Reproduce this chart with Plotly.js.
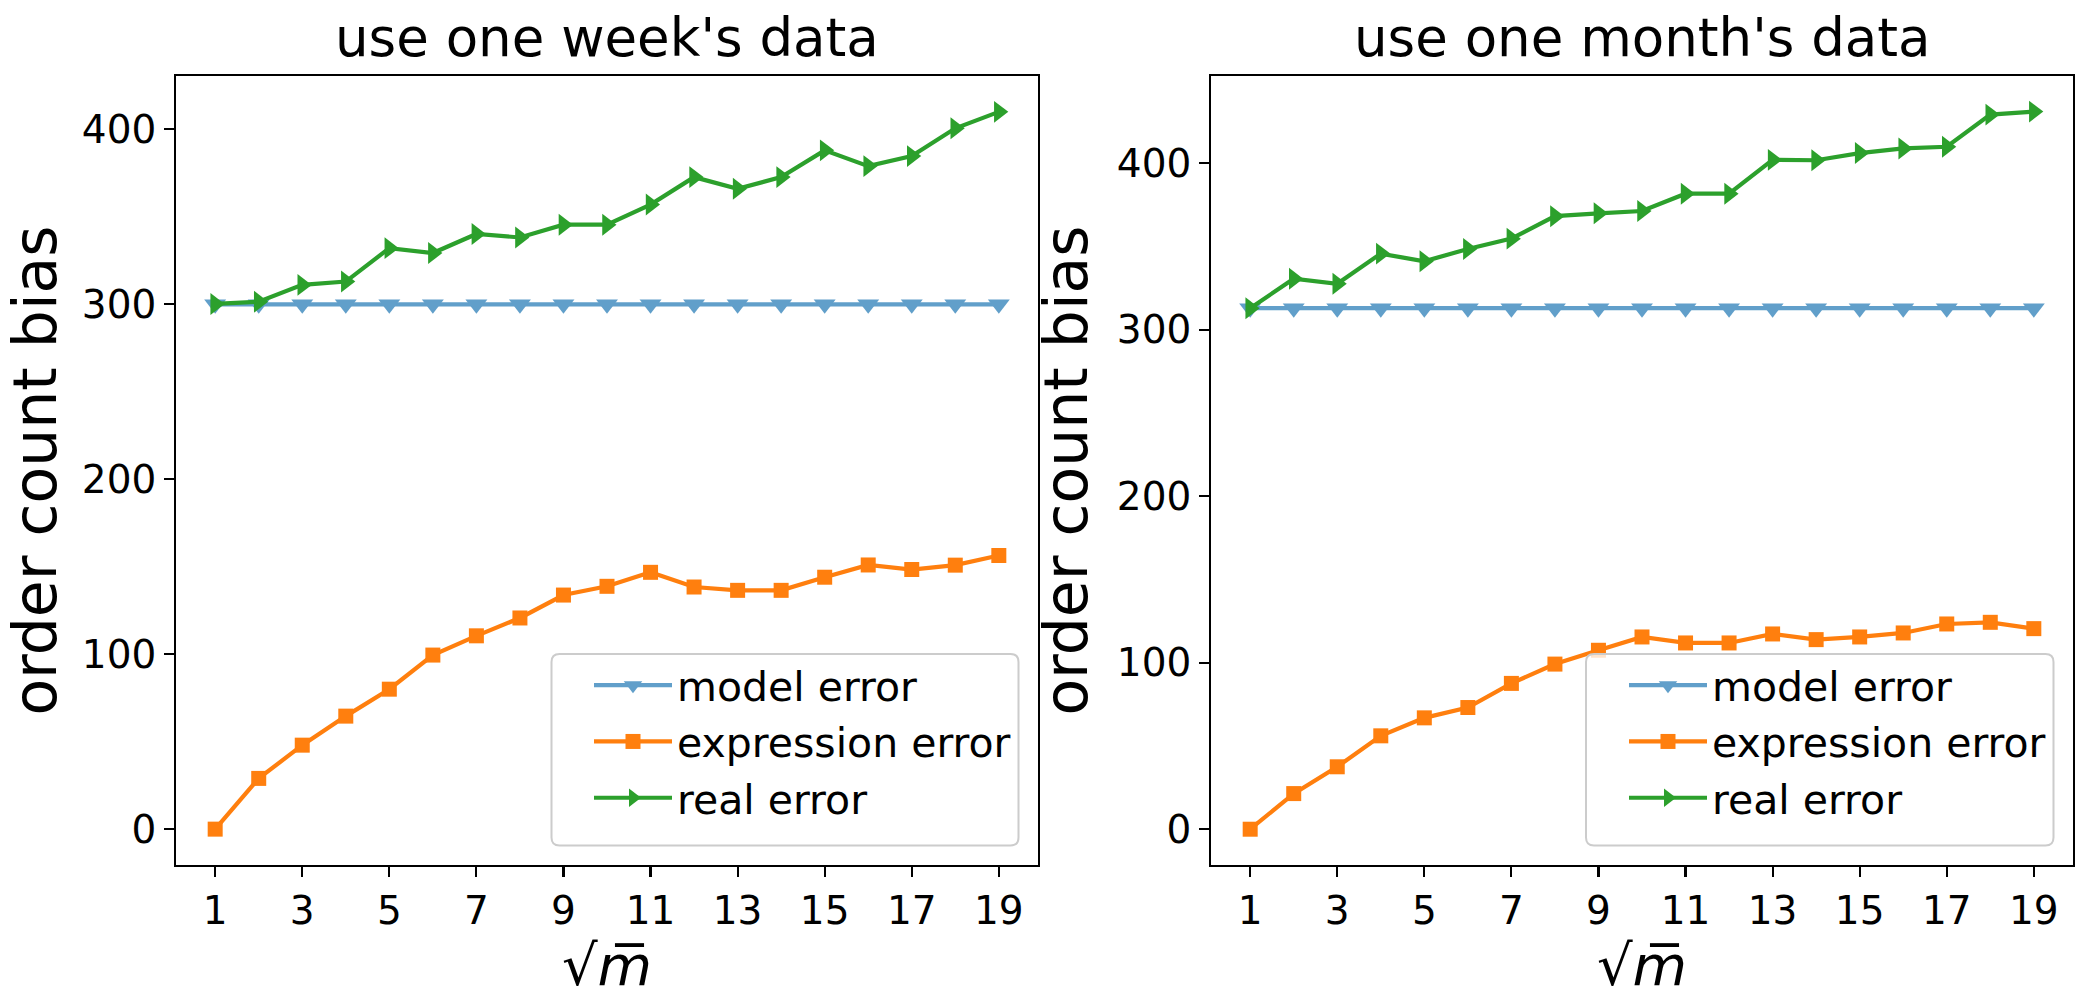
<!DOCTYPE html>
<html>
<head>
<meta charset="utf-8">
<script src="https://cdn.plot.ly/plotly-3.0.1.min.js"></script>
<style>html,body{margin:0;padding:0;background:#fff;}#chart{width:2094px;height:1001px;}</style>
</head>
<body>
<div id="chart"></div>
<script>
// ---- data ----
const sqrtM = [1,2,3,4,5,6,7,8,9,10,11,12,13,14,15,16,17,18,19];
const xTicks = [1,3,5,7,9,11,13,15,17,19];
const yTicks = [0,100,200,300,400];

const weekModel = [300,300,300,300,300,300,300,300,300,300,300,300,300,300,300,300,300,300,300];
const weekExpression = [0,29,48,64.6,80,99.5,110.5,120.7,133.8,138.8,146.8,138.4,136.5,136.5,144,151,148.4,150.9,156.4];
const weekReal = [300.2,301.5,311.1,313,332.1,329.3,340.2,338.2,345.5,345.5,357,372.7,366,372.7,388,379,384.7,400.6,410];

const monthModel = [313,313,313,313,313,313,313,313,313,313,313,313,313,313,313,313,313,313,313];
const monthExpression = [0,21.4,37.5,56.1,66.9,73.1,87.6,99.2,107.5,115.5,111.9,111.9,117.3,113.9,115.5,117.9,123.3,124.3,120.5];
const monthReal = [313,330.7,327.7,345.8,341.2,348.6,354.8,368.3,370,371.4,381.8,381.8,402.1,401.9,406.2,409,410,429.3,431.1];

const titles = ["use one week's data", "use one month's data"];
const seriesNames = ["model error", "expression error", "real error"];

// ---- style ----
const W = 2094, H = 1001;
const FONT = 'DejaVu Sans, Liberation Sans, sans-serif';
const cBlue = '#1f77b4', cOrange = '#ff7f0e', cGreen = '#2ca02c';
const LW = 4.2;

function mk(x, y, name, color, symbol, size, xa, ya, leg, opacity) {
  return {
    x: x, y: y, name: name, type: 'scatter', mode: 'lines+markers',
    xaxis: xa, yaxis: ya, legend: leg, showlegend: true,
    opacity: opacity,
    line: {color: color, width: LW},
    marker: {color: color, symbol: symbol, size: size, line: {width: 0}}
  };
}

const traces = [
  mk(sqrtM, weekModel, seriesNames[0], cBlue, 'triangle-down', 19, 'x', 'y', 'legend', 0.7),
  mk(sqrtM, weekExpression, seriesNames[1], cOrange, 'square', 15, 'x', 'y', 'legend', 1),
  mk(sqrtM, weekReal, seriesNames[2], cGreen, 'triangle-right', 19, 'x', 'y', 'legend', 1),
  mk(sqrtM, monthModel, seriesNames[0], cBlue, 'triangle-down', 19, 'x2', 'y2', 'legend2', 0.7),
  mk(sqrtM, monthExpression, seriesNames[1], cOrange, 'square', 15, 'x2', 'y2', 'legend2', 1),
  mk(sqrtM, monthReal, seriesNames[2], cGreen, 'triangle-right', 19, 'x2', 'y2', 'legend2', 1)
];

const px = v => v / W;
const py = v => 1 - v / H;

function xax(domain) {
  return {
    domain: domain, range: [0.1, 19.9], tickmode: 'array', tickvals: xTicks,
    ticktext: xTicks.map(String),
    showgrid: false, zeroline: false, showline: true, mirror: true,
    linecolor: '#000', linewidth: 2.2, ticks: 'outside', ticklen: 9.7, tickwidth: 2.2,
    tickcolor: '#000', tickfont: {family: FONT, size: 39, color: '#000'},
    title: {text: '√<i>m̅</i>', font: {family: FONT, size: 56, color: '#000'}, standoff: 4},
    automargin: false
  };
}
function yax(domain, range, anchor) {
  return {
    domain: domain, range: range, anchor: anchor, tickmode: 'array', tickvals: yTicks,
    ticktext: yTicks.map(String),
    showgrid: false, zeroline: false, showline: true, mirror: true,
    linecolor: '#000', linewidth: 2.2, ticks: 'outside', ticklen: 9.7, tickwidth: 2.2,
    tickcolor: '#000', tickfont: {family: FONT, size: 39, color: '#000'},
    title: {text: 'order count bias', font: {family: FONT, size: 60, color: '#000'}, standoff: 10},
    automargin: false
  };
}

const dx1 = [px(176), px(1038)], dx2 = [px(1211), px(2073)];
const dy = [py(865), py(76)];

function roundRect(x0, y0, x1, y1, r) {
  const P = (x, y) => px(x) + ',' + py(y);
  return 'M' + P(x0 + r, y0) + ' L' + P(x1 - r, y0) +
    ' Q' + P(x1, y0) + ' ' + P(x1, y0 + r) +
    ' L' + P(x1, y1 - r) + ' Q' + P(x1, y1) + ' ' + P(x1 - r, y1) +
    ' L' + P(x0 + r, y1) + ' Q' + P(x0, y1) + ' ' + P(x0, y1 - r) +
    ' L' + P(x0, y0 + r) + ' Q' + P(x0, y0) + ' ' + P(x0 + r, y0) + ' Z';
}

const legendStyle = (xr) => ({
  x: px(xr), xanchor: 'right', y: py(652), yanchor: 'top',
  bgcolor: 'rgba(0,0,0,0)', borderwidth: 0,
  font: {family: FONT, size: 41, color: '#000'},
  itemwidth: 78, tracegroupgap: 0, traceorder: 'normal'
});

const layout = {
  width: W, height: H,
  margin: {l: 0, r: 0, t: 0, b: 0},
  paper_bgcolor: '#fff', plot_bgcolor: '#fff',
  showlegend: true,
  xaxis: Object.assign(xax(dx1), {anchor: 'y'}),
  yaxis: yax(dy, [-20.5, 430.5], 'x'),
  xaxis2: Object.assign(xax(dx2), {anchor: 'y2'}),
  yaxis2: yax(dy, [-21.5, 452.5], 'x2'),
  legend: legendStyle(1016),
  legend2: legendStyle(2051),
  shapes: [
    {type: 'path', xref: 'paper', yref: 'paper', layer: 'above', path: roundRect(551.5, 654, 1018.5, 845.5, 8),
     fillcolor: 'rgba(255,255,255,0.8)', line: {color: '#cccccc', width: 2}},
    {type: 'path', xref: 'paper', yref: 'paper', layer: 'above', path: roundRect(1586, 654, 2053.5, 845.5, 8),
     fillcolor: 'rgba(255,255,255,0.8)', line: {color: '#cccccc', width: 2}}
  ],
  annotations: [
    {text: titles[0], xref: 'paper', yref: 'paper', x: (dx1[0] + dx1[1]) / 2, y: dy[1], xanchor: 'center', yanchor: 'bottom', yshift: 6, showarrow: false, font: {family: FONT, size: 53, color: '#000'}},
    {text: titles[1], xref: 'paper', yref: 'paper', x: (dx2[0] + dx2[1]) / 2, y: dy[1], xanchor: 'center', yanchor: 'bottom', yshift: 6, showarrow: false, font: {family: FONT, size: 53, color: '#000'}}
  ]
};

Plotly.newPlot('chart', traces, layout, {displayModeBar: false, staticPlot: true});
</script>
</body>
</html>
